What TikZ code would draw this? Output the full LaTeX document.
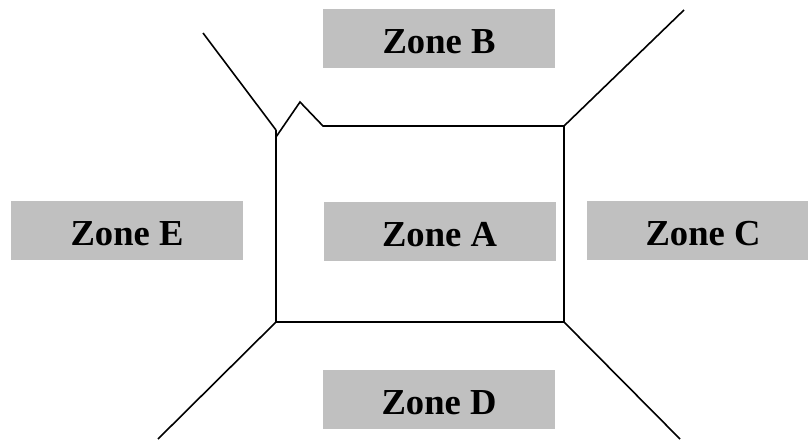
\documentclass[tikz,border=0pt]{standalone}
\usepackage{fontspec}
\setmainfont{Liberation Serif}
\definecolor{zonegray}{RGB}{192,192,192}
\begin{document}
\begin{tikzpicture}[x=1pt,y=-1pt,
  zone/.style={fill=zonegray, draw=none, inner sep=0pt,
    minimum width=232pt, minimum height=59pt,
    text height=30pt, text depth=0pt,
    font=\fontsize{36.6}{40}\selectfont\bfseries},
  wall/.style={line width=1.6pt, line join=miter, black}]
  \clip (0,0) rectangle (808,439);
  \useasboundingbox (0,0) rectangle (808,439);

  % labelled zones
  \node[zone] (zb) at (439,38.5)  {Zone B};
  \node[zone] (za) at (439.5,231.5) {Zone A};
  \node[zone] (zd) at (439,399)   {Zone D};
  \node[zone] (ze) at (127,230.5) {Zone E};
  \node[zone] (zc) at (703,230.5) {Zone C};

  % outline of the central room
  \coordinate (tl) at (276,130);
  \coordinate (bl) at (276,322);
  \coordinate (br) at (564,322);
  \coordinate (tr) at (564,126);
  \coordinate (nr) at (323,126);
  \coordinate (np) at (300,102);
  \coordinate (nl) at (276,137);
  \draw[wall] (tl) -- (bl) -- (br) -- (tr) -- (nr) -- (np) -- (nl);

  % diagonal walls leading outward
  \coordinate (otl) at (203,33);
  \coordinate (otr) at (684,10);
  \coordinate (obl) at (158,439);
  \coordinate (obr) at (680,439);
  \draw[wall] (otl) -- (tl);
  \draw[wall] (otr) -- (tr);
  \draw[wall] (bl) -- (obl);
  \draw[wall] (br) -- (obr);
\end{tikzpicture}
\end{document}
